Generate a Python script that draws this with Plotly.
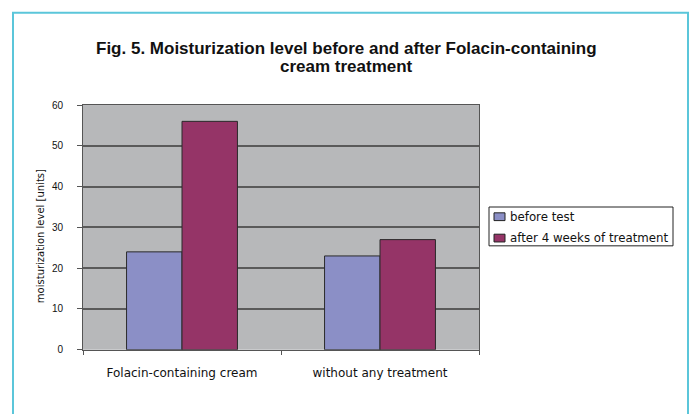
import plotly.graph_objects as go

# Categories and series values
categories = ["Folacin-containing cream", "without any treatment"]
before_test = [24, 23]
after_4_weeks = [56, 27]
series_names = ["before test", "after 4 weeks of treatment"]
series_colors = ["#8b8fc6", "#953467"]
y_ticks = [0, 10, 20, 30, 40, 50, 60]
title_lines = [
    "Fig. 5. Moisturization level before and after Folacin-containing",
    "cream treatment",
]
y_title = "moisturization level [units]"

W, H = 693, 414


def px_x(x):
    return x / W


def px_y(y):
    return 1 - y / H


fig = go.Figure()
for name, vals, col in zip(series_names, [before_test, after_4_weeks], series_colors):
    fig.add_trace(go.Bar(
        x=categories, y=vals, name=name, showlegend=False,
        marker=dict(color=col, line=dict(color="#2a2a2a", width=1)),
    ))

sans = "Liberation Sans, Arial, sans-serif"
wide = "DejaVu Sans, Verdana, sans-serif"

annotations = []
shapes = [
    # light frame around the whole figure
    dict(type="rect", xref="paper", yref="paper",
         x0=px_x(13), x1=px_x(688), y0=-0.1, y1=px_y(7),
         line=dict(color="#5bc6da", width=2), layer="below"),
]

# two-line bold title
for text, yc in zip(title_lines, [44, 62]):
    annotations.append(dict(
        text=f"<b>{text}</b>", xref="paper", yref="paper",
        x=px_x(346), y=px_y(yc), xanchor="center", yanchor="middle",
        showarrow=False, font=dict(size=17, family=sans, color="#111111"),
    ))

# rotated y-axis title
annotations.append(dict(
    text=y_title, xref="paper", yref="paper",
    x=px_x(40), y=px_y(237), xanchor="center", yanchor="middle",
    textangle=-90, showarrow=False,
    font=dict(size=10, family=wide, color="#111111"),
))

# legend box with swatches
shapes.append(dict(type="rect", xref="paper", yref="paper",
                   x0=px_x(489), x1=px_x(673), y0=px_y(247), y1=px_y(207),
                   line=dict(color="#222222", width=1), fillcolor="white"))
for name, col, yc in zip(series_names, series_colors, [217, 239]):
    shapes.append(dict(type="rect", xref="paper", yref="paper",
                       x0=px_x(494), x1=px_x(505), y0=px_y(yc + 4), y1=px_y(yc - 4),
                       line=dict(color="#222222", width=1), fillcolor=col))
    annotations.append(dict(
        text=name, xref="paper", yref="paper",
        x=px_x(508), y=px_y(yc), xanchor="left", yanchor="middle",
        showarrow=False, font=dict(size=11.8, family=wide, color="#111111"),
    ))

fig.update_layout(
    width=W, height=H,
    margin=dict(l=0, r=0, t=0, b=0),
    paper_bgcolor="white",
    plot_bgcolor="#b7b8ba",
    barmode="group",
    bargap=0.44,
    bargroupgap=0,
    showlegend=False,
    font=dict(family=sans, color="#111111", size=10),
    xaxis=dict(
        domain=[px_x(83), px_x(479)],
        showline=True, linecolor="#555555", linewidth=1, mirror=True,
        ticks="outside", tickson="boundaries", ticklen=4, tickcolor="#555555",
        showgrid=False,
        tickfont=dict(size=12, family=wide),
        ticklabelstandoff=12,
        anchor="y",
    ),
    yaxis=dict(
        domain=[px_y(354), px_y(102)],
        range=[0, 60],
        tickvals=y_ticks,
        showline=True, linecolor="#555555", linewidth=1, mirror=True,
        ticks="outside", ticklen=5, tickcolor="#555555",
        showgrid=True, gridcolor="#5a5a5a", gridwidth=1.5,
        zeroline=False,
        tickfont=dict(size=10, family=sans),
        ticklabelstandoff=12,
        anchor="x",
    ),
    annotations=annotations,
    shapes=shapes,
)

fig.write_html("out.html")
